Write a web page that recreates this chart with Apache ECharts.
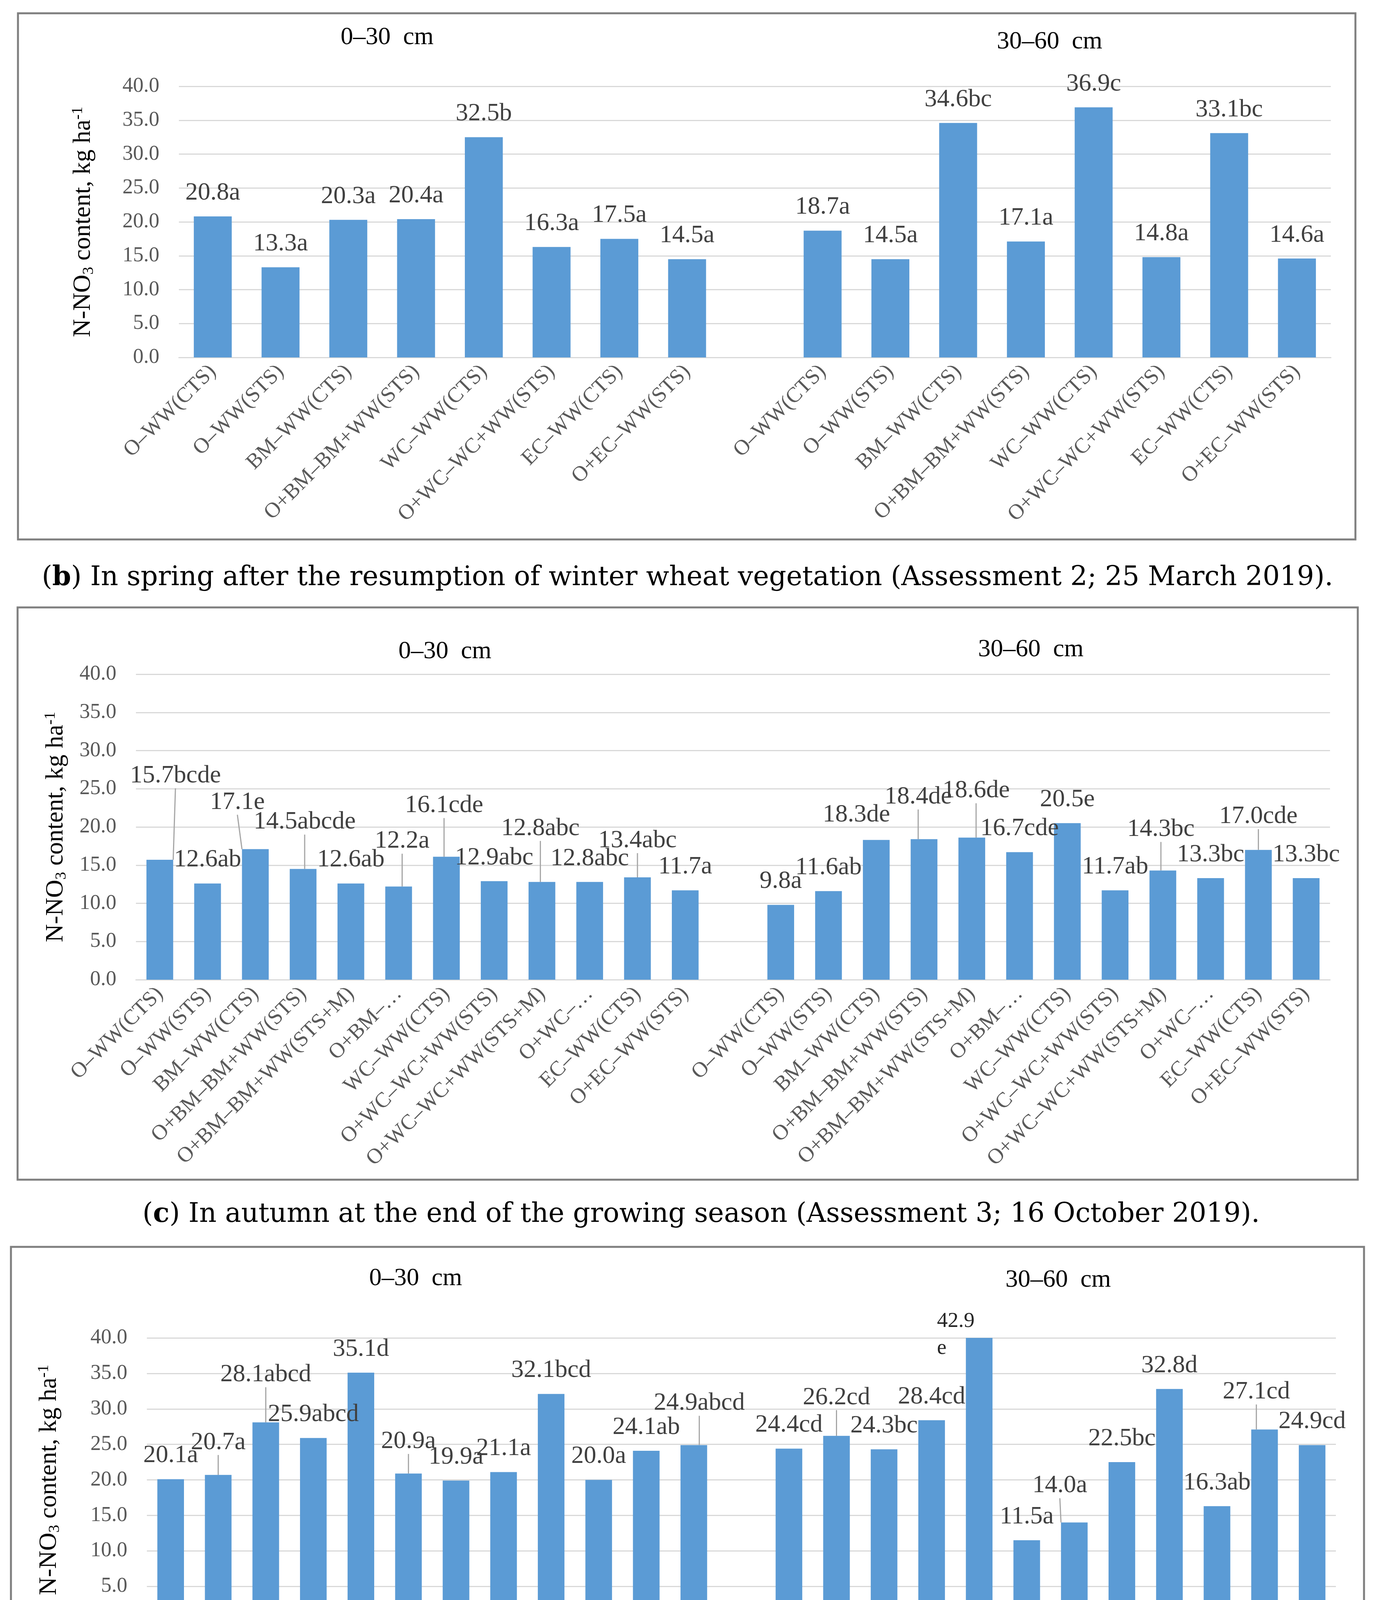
<!DOCTYPE html>
<html><head><meta charset="utf-8">
<script src="https://cdn.jsdelivr.net/npm/echarts@6/dist/echarts.min.js"></script>
<style>html,body{margin:0;padding:0;background:#fff}#c{width:3515px;height:4843px}</style>
</head><body><div id="c"></div>
<script>
// ---------- DATA ----------
const treatB = ['O–WW(CTS)','O–WW(STS)','BM–WW(CTS)','O+BM–BM+WW(STS)','WC–WW(CTS)','O+WC–WC+WW(STS)','EC–WW(CTS)','O+EC–WW(STS)'];
const treatC = ['O–WW(CTS)','O–WW(STS)','BM–WW(CTS)','O+BM–BM+WW(STS)','O+BM–BM+WW(STS+M)','O+BM–…','WC–WW(CTS)','O+WC–WC+WW(STS)','O+WC–WC+WW(STS+M)','O+WC–…','EC–WW(CTS)','O+EC–WW(STS)'];
const treatD = ['O–WW(CTS)','O–WW(STS)','BM–WW(CTS)','O+BM–BM+WW(STS)','O+BM–BM+WW(STS+M)','O+BM–BM+WW(STS+2M)','WC–WW(CTS)','O+WC–WC+WW(STS)','O+WC–WC+WW(STS+M)','O+WC–WC+WW(STS+2M)','EC–WW(CTS)','O+EC–WW(STS)'];

const b_0_30 = [20.8,13.3,20.3,20.4,32.5,16.3,17.5,14.5];
const b_0_30_grp = ['a','a','a','a','b','a','a','a'];
const b_30_60 = [18.7,14.5,34.6,17.1,36.9,14.8,33.1,14.6];
const b_30_60_grp = ['a','a','bc','a','c','a','bc','a'];

const c_0_30 = [15.7,12.6,17.1,14.5,12.6,12.2,16.1,12.9,12.8,12.8,13.4,11.7];
const c_0_30_grp = ['bcde','ab','e','abcde','ab','a','cde','abc','abc','abc','abc','a'];
const c_30_60 = [9.8,11.6,18.3,18.4,18.6,16.7,20.5,11.7,14.3,13.3,17.0,13.3];
const c_30_60_grp = ['a','ab','de','de','de','cde','e','ab','bc','bc','cde','bc'];

const d_0_30 = [20.1,20.7,28.1,25.9,35.1,20.9,19.9,21.1,32.1,20.0,24.1,24.9];
const d_0_30_grp = ['a','a','abcd','abcd','d','a','a','a','bcd','a','ab','abcd'];
const d_30_60 = [24.4,26.2,24.3,28.4,42.9,11.5,14.0,22.5,32.8,16.3,27.1,24.9];
const d_30_60_grp = ['cd','cd','bc','cd','e','a','a','bc','d','ab','cd','cd'];

const yMin = 0, yMax = 40, yStep = 5;
const depthTitles = ['0–30  cm', '30–60  cm'];
const captions = [
  ['b', ' In spring after the resumption of winter wheat vegetation (Assessment 2; 25 March 2019).'],
  ['c', ' In autumn at the end of the growing season (Assessment 3; 16 October 2019).'],
  ['d', ' In spring before spring wheat sowing (Assessment 4; 23 April 2020).']
];

// ---------- LABEL STYLE (nudges in px, index in combined category list) ----------
const shiftB = {};
const shiftC = {0:[40,-155],2:[-46,-60],3:[4,-60],5:[9,-56],6:[-6,-71],8:[-4,-77],10:[0,-34],
                15:[-51,-4],16:[-15,-48],17:[11,-60],21:[-5,-45],23:[0,-25]};
const linesC = [0,2,3,5,6,8,10,16,17,21,23];
const shiftD = {1:[0,-23],2:[0,-62],5:[0,-22],11:[14,-47],14:[0,-38],17:[-108,89],19:[-37,-34],23:[-21,-36]};
const linesD = [1,2,5,11,14,19,23];
const wrapD = [17];

// ---------- BUILD ----------
const FONT = 'Liberation Serif';
const CAP_FONT = 'DejaVu Serif';
const BAR = '#5B9BD5';
const GRID_C = '#D9D9D9';

const panels = [
  {cats: treatB, l: b_0_30, lg: b_0_30_grp, r: b_30_60, rg: b_30_60_grp,
   grid: {left: 458, right: 108, top: 221, height: 694}, nameGap: 205, shift: shiftB, lines: [], wrap: [],
   box: [46, 34, 3470, 1381], titles: [[991, 96], [2687, 107]], cap: [1760, 1480]},
  {cats: treatC, l: c_0_30, lg: c_0_30_grp, r: c_30_60, rg: c_30_60_grp,
   grid: {left: 348, right: 110, top: 1726, height: 782}, nameGap: 165, shift: shiftC, lines: linesC, wrap: [],
   box: [45, 1555, 3476, 3020], titles: [[1139, 1668], [2639, 1663]], cap: [1795, 3110]},
  {cats: treatD, l: d_0_30, lg: d_0_30_grp, r: d_30_60, rg: d_30_60_grp,
   grid: {left: 376, right: 95, top: 3425, height: 727}, nameGap: 210, shift: shiftD, lines: linesD, wrap: wrapD,
   box: [28, 3192, 3492, 4680], titles: [[1064, 3273], [2709, 3277]], cap: [1780, 4770]}
];

const grids = [], xAxes = [], yAxes = [], series = [], graphics = [];

panels.forEach((p, k) => {
  const cats = p.cats.concat([''], p.cats);
  const vals = p.l.concat([null], p.r);
  const grps = p.lg.concat([''], p.rg);
  grids.push(p.grid);
  xAxes.push({
    type: 'category', gridIndex: k, data: cats,
    axisLine: {show: true, lineStyle: {color: GRID_C, width: 3}},
    axisTick: {show: false},
    axisLabel: {interval: 0, rotate: 45, margin: 28, fontFamily: FONT, fontSize: 55, color: '#595959'}
  });
  yAxes.push({
    type: 'value', gridIndex: k, min: yMin, max: yMax, interval: yStep,
    axisLine: {show: false}, axisTick: {show: false},
    splitLine: {show: true, lineStyle: {color: GRID_C, width: 3}},
    axisLabel: {margin: 50, fontFamily: FONT, fontSize: 54, color: '#595959', formatter: v => v.toFixed(1)},
    name: '{n|N-NO}{s|3}{n| content, kg ha}{p|-1}',
    nameLocation: 'middle', nameRotate: 90, nameGap: p.nameGap,
    nameTextStyle: {
      rich: {
        n: {fontFamily: FONT, fontSize: 64, color: '#000', lineHeight: 80, verticalAlign: 'middle'},
        s: {fontFamily: FONT, fontSize: 40, color: '#000', lineHeight: 80, verticalAlign: 'bottom', padding: [0,0,6,0]},
        p: {fontFamily: FONT, fontSize: 40, color: '#000', lineHeight: 80, verticalAlign: 'top', padding: [6,0,0,0]}
      }
    }
  });
  const data = vals.map((v, i) => {
    if (v == null) return '-';
    const item = {value: v};
    if (p.lines.includes(i)) item.labelLine = {show: true};
    if (p.wrap.includes(i)) item.label = {fontSize: 55, lineHeight: 69, align: 'left', color: '#262626'};
    return item;
  });
  series.push({
    type: 'bar', xAxisIndex: k, yAxisIndex: k, data: data,
    barWidth: '56%', itemStyle: {color: BAR}, clip: true,
    label: {
      show: true, position: 'top', distance: 28, fontFamily: FONT, fontSize: 64, color: '#404040',
      formatter: prm => {
        const i = prm.dataIndex;
        const v = Number(prm.value).toFixed(1);
        return p.wrap.includes(i) ? v + '\n' + grps[i] : v + grps[i];
      }
    },
    labelLine: {show: false, lineStyle: {color: '#A6A6A6', width: 3}},
    labelLayout: prm => {
      const s = p.shift[prm.dataIndex];
      return s ? {dx: s[0], dy: s[1]} : {};
    },
    silent: true, animation: false
  });
  const b = p.box;
  graphics.push({type: 'rect', shape: {x: b[0], y: b[1], width: b[2] - b[0], height: b[3] - b[1]},
    style: {fill: null, stroke: '#7F7F7F', lineWidth: 5}, silent: true, z: 1});
  p.titles.forEach((t, j) => {
    graphics.push({type: 'text', x: t[0], y: t[1], silent: true,
      style: {text: depthTitles[j], fontFamily: FONT, fontSize: 64, fill: '#000', align: 'center', verticalAlign: 'middle'}});
  });
  graphics.push({type: 'text', x: p.cap[0], y: p.cap[1], silent: true,
    style: {text: '({b|' + captions[k][0] + '})' + captions[k][1], fontFamily: CAP_FONT, fontSize: 69, fill: '#000',
      align: 'center', verticalAlign: 'middle',
      rich: {b: {fontFamily: CAP_FONT, fontSize: 69, fontWeight: 'bold', fill: '#000'}}}});
});

const chart = echarts.init(document.getElementById('c'), null, {renderer: 'canvas'});
chart.setOption({
  backgroundColor: '#fff',
  animation: false,
  grid: grids, xAxis: xAxes, yAxis: yAxes, series: series, graphic: graphics
});
</script></body></html>
